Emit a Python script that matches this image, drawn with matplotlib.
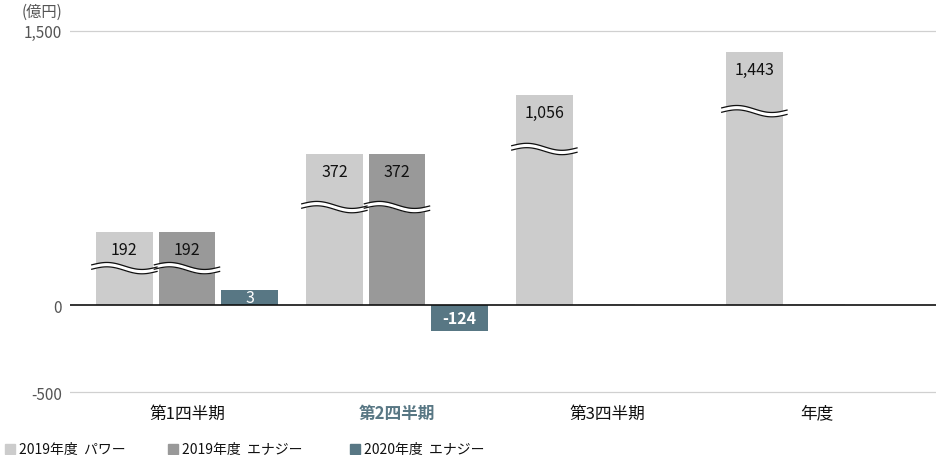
import numpy as np
import matplotlib
matplotlib.use("Agg")
import matplotlib.pyplot as plt
from matplotlib.patches import Rectangle

plt.rcParams['font.family'] = ['Noto Sans CJK JP', 'DejaVu Sans']

# ---- data ----
categories = ["第1四半期", "第2四半期", "第3四半期", "年度"]
series_names = ["2019年度  パワー", "2019年度  エナジー", "2020年度  エナジー"]
values_power19 = [192, 372, 1056, 1443]
values_energy19 = [192, 372, None, None]
values_energy20 = [3, -124, None, None]
# bars in the reference are drawn with broken axes (≈): drawn height on the axis
drawn_power19 = [400, 827, 1150, 1385]
drawn_energy19 = [400, 827, 0, 0]
drawn_energy20 = [82, -149, None, None]
yticks = [-500, 0, 1500]
ytick_labels = ["-500", "0", "1,500"]
unit_label = "(億円)"

colors = ["#cccccc", "#999999", "#587784"]
label_colors = ["#111111", "#111111", "#ffffff"]

fig = plt.figure(figsize=(9.36, 4.56), dpi=100)
W, H = 936, 456
ax = fig.add_axes([70 / W, 1 - 400 / H, (W - 70) / W, (400 - 25) / H])

k = 0.952
ax.set_yscale('function', functions=(lambda y: np.where(np.asarray(y) >= 0, y, np.asarray(y) * k),
                                     lambda y: np.where(np.asarray(y) >= 0, y, np.asarray(y) / k)))
ax.set_ylim(-540, 1538)
ax.set_xlim(-0.557, 3.567)

x = np.arange(len(categories))
pitch = 0.298
width = 0.271

series_vals = [values_power19, values_energy19, values_energy20]
series_drawn = [drawn_power19, drawn_energy19, drawn_energy20]
break_at = [[208, 542, 860, 1067], [208, 542, None, None], [None, None, None, None]]

for s in range(3):
    for i in range(len(categories)):
        d = series_drawn[s][i]
        v = series_vals[s][i]
        if d is None:
            continue
        xc = x[i] + (s - 1) * pitch
        if d == 0:
            ax.bar(xc, 4, width=width, color="#e6e6e6", zorder=2, linewidth=0)
            continue
        ax.bar(xc, d, width=width, color=colors[s], zorder=2, linewidth=0)
        if v is None:
            continue
        lab = f"{v:,}"
        if s < 2:
            ax.annotate(lab, (xc, d), xytext=(0, -12.5), textcoords='offset points',
                        ha='center', va='center', fontsize=11.5, color=label_colors[s], zorder=5)
        else:
            bold = v < 0
            ax.annotate(lab, (xc, d / 2), ha='center', va='center', fontsize=11.5,
                        color=label_colors[s], fontweight='bold' if bold else 'normal', zorder=5)
        b = break_at[s][i]
        if b is not None:
            t = np.linspace(0, 1, 60)
            ext = 0.02
            xs = xc - width / 2 - ext + t * (width + 2 * ext)
            wave = b + 16 * np.sin(2 * np.pi * t) - 12 * t
            gap = 12
            ax.fill_between(xs, wave - gap, wave + gap, color="white", zorder=3, linewidth=0)
            ax.plot(xs, wave + gap, color="#111111", lw=0.9, zorder=4)
            ax.plot(xs, wave - gap, color="#111111", lw=0.9, zorder=4)

# grid / zero line
for yv in (1500, -500):
    ax.axhline(yv, color="#d0d0d0", lw=0.9, zorder=1)
ax.axhline(0, color="#111111", lw=1.2, zorder=4)

for sp in ax.spines.values():
    sp.set_visible(False)
ax.set_yticks(yticks)
ax.set_yticklabels(ytick_labels)
ax.tick_params(axis='y', length=0, pad=6, labelsize=11, labelcolor="#555555")
ax.set_xticks([])

# category labels
for i, c in enumerate(categories):
    xp = (187 + 210 * i) / W
    if i == 1:
        fig.text(xp, 1 - 414 / H, c, ha='center', va='center', fontsize=12,
                 color=colors[2], fontweight='bold')
    else:
        fig.text(xp, 1 - 414 / H, c, ha='center', va='center', fontsize=12, color="#111111")

fig.text(22 / W, 1 - 12 / H, unit_label, ha='left', va='center', fontsize=11, color="#555555")

# legend
leg_x = [5, 168, 350]
for s in range(3):
    fig.patches.append(Rectangle((leg_x[s] / W, 1 - 455 / H), 10 / W, 10 / H,
                                 transform=fig.transFigure, color=colors[s]))
    fig.text((leg_x[s] + 14) / W, 1 - 450 / H, series_names[s], ha='left', va='center',
             fontsize=10, color="#111111")

fig.savefig("out.png", dpi=100)
